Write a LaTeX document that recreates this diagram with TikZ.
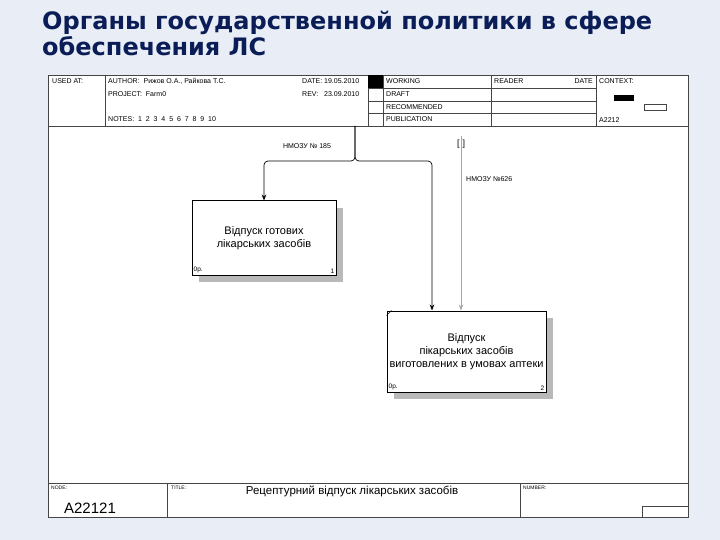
\documentclass[tikz,border=0pt]{standalone}
\usepackage{fontspec}
\setmainfont{Liberation Sans}
\newfontfamily\titlefont{DejaVu Sans}
\usetikzlibrary{arrows.meta,shadows,positioning}
\definecolor{bgblue}{HTML}{E8EDF6}
\definecolor{titleblue}{HTML}{0A1D57}
\definecolor{framegray}{HTML}{454545}
\newcommand*{\hdrtext}{\fontsize{7}{8}\selectfont}
\newcommand*{\tagtext}{\fontsize{5}{6}\selectfont}
\newcommand*{\cornertext}{\fontsize{6.5}{7}\selectfont}
\newcommand*{\functext}{\fontsize{11}{13}\selectfont}
\tikzset{
	frame/.style={draw=framegray, line width=0.8pt},
	hdr/.style={anchor=west, inner sep=0pt, font=\hdrtext},
	tag/.style={anchor=north west, inner sep=0pt, font=\tagtext},
	corner/.style={inner sep=2pt, font=\cornertext},
	func/.style={
		draw=black, line width=1pt, fill=white, align=center,
		inner sep=1pt, font=\functext,
		general shadow={fill=gray!55, shadow xshift=7pt, shadow yshift=-7pt}
	},
	flow/.style={draw=black, line width=0.7pt, rounded corners=4pt,
		-{Stealth[length=6pt,width=4.5pt]}},
	tunnel/.style={flow, draw=gray!70},
	arrlabel/.style={inner sep=0pt, font=\hdrtext}
}

\begin{document}
\begin{tikzpicture}[x=1pt,y=-1pt]
	\useasboundingbox (0,0) rectangle (720,540);
	\fill[bgblue] (0,0) rectangle (720,540);
	% title
	\node[anchor=north west, inner sep=0pt, align=left, text=titleblue,
		font=\titlefont\bfseries\fontsize{24}{26}\selectfont] (title) at (42,11)
		{Органы государственной политики в сфере\\обеспечения ЛС};
	% frame
	\filldraw[frame, fill=white] (48,75) rectangle (688,517);
	\draw[frame] (48,126) -- (688,126);
	\foreach \x in {105,368,383,491,596}
		\draw[frame] (\x,75) -- (\x,126);
	\foreach \y in {88,101,113}
		\draw[frame] (368,\y) -- (596,\y);
	\fill[black] (368,75) rectangle (383,88);
	\node[hdr] (usedat) at (52,81) {USED AT:};
	\node[hdr] (author) at (108,81) {AUTHOR:\ \ Рижов О.А., Райкова Т.С.};
	\node[hdr] (project) at (108,94) {PROJECT:\ \ Farm0};
	\node[hdr] (notes) at (108,119) {NOTES:\ \ 1\ \ 2\ \ 3\ \ 4\ \ 5\ \ 6\ \ 7\ \ 8\ \ 9\ \ 10};
	\node[hdr] (date) at (302,81) {DATE:};
	\node[hdr] (rev) at (302,94) {REV:};
	\node[hdr] (dateval) at (324,81) {19.05.2010};
	\node[hdr] (revval) at (324,94) {23.09.2010};
	\node[hdr] (working) at (386,81) {WORKING};
	\node[hdr] (draft) at (386,94) {DRAFT};
	\node[hdr] (recomm) at (386,107) {RECOMMENDED};
	\node[hdr] (public) at (386,119) {PUBLICATION};
	\node[hdr] (reader) at (494,81) {READER};
	\node[hdr, anchor=east] (rdate) at (593,81) {DATE};
	\node[hdr] (context) at (599,81) {CONTEXT:};
	\node[hdr] (ctxnode) at (599,120) {A2212};
	\fill[black] (614,95) rectangle (634,101);
	\draw[framegray, line width=0.6pt] (644,104) rectangle (666,110);
	% footer
	\draw[frame] (48,483) -- (688,483);
	\draw[frame] (167,483) -- (167,517);
	\draw[frame] (520,483) -- (520,517);
	\draw[frame] (642,517) -- (642,506) -- (688,506);
	\node[tag] (nodetag) at (51,486) {NODE:};
	\node[inner sep=0pt, font=\fontsize{15}{15}\selectfont] (nodenum) at (90,508) {A22121};
	\node[tag] (titletag) at (171,486) {TITLE:};
	\node[inner sep=0pt, font=\fontsize{11.5}{13}\selectfont] (diagtitle) at (352,491)
		{Рецептурний відпуск лікарських засобів};
	\node[tag] (numtag) at (523,486) {NUMBER:};
	% functions
	\node[func, minimum width=144pt, minimum height=74pt] (b1) at (264,238)
		{Відпуск готових\\лікарських засобів};
	\node[corner, anchor=south west] at (b1.south west) {0р.};
	\node[corner, anchor=south east] at (b1.south east) {1};
	\node[func, minimum width=159pt, minimum height=81pt] (b2) at (466.5,351.5)
		{Відпуск\\пікарських засобів\\виготовлених в умовах аптеки};
	\node[corner, anchor=south west] at (b2.south west) {0р.};
	\node[corner, anchor=south east] at (b2.south east) {2};
	\draw[line width=0.6pt] ([yshift=-5pt]b2.north west) -- ([xshift=5pt]b2.north west);
	% arrows
	\coordinate (in185) at (355,126);
	\coordinate (fork) at (355,161);
	\coordinate (right185) at (432,161);
	\coordinate (in626) at (461,136);
	\draw[flow] (in185) -- (fork) -| (b1.north);
	\draw[flow] (in185) -- (fork) -- (right185) -- (right185 |- b2.north);
	\draw[tunnel] (in626) -- (in626 |- b2.north);
	\node[inner sep=0pt, font=\fontsize{9}{9}\selectfont] (brk) at (461,144) {[\,\,]};
	\node[arrlabel] (l185) at (307,146) {НМОЗУ № 185};
	\node[arrlabel, anchor=west] (l626) at (466,179) {НМОЗУ №626};
\end{tikzpicture}
\end{document}
